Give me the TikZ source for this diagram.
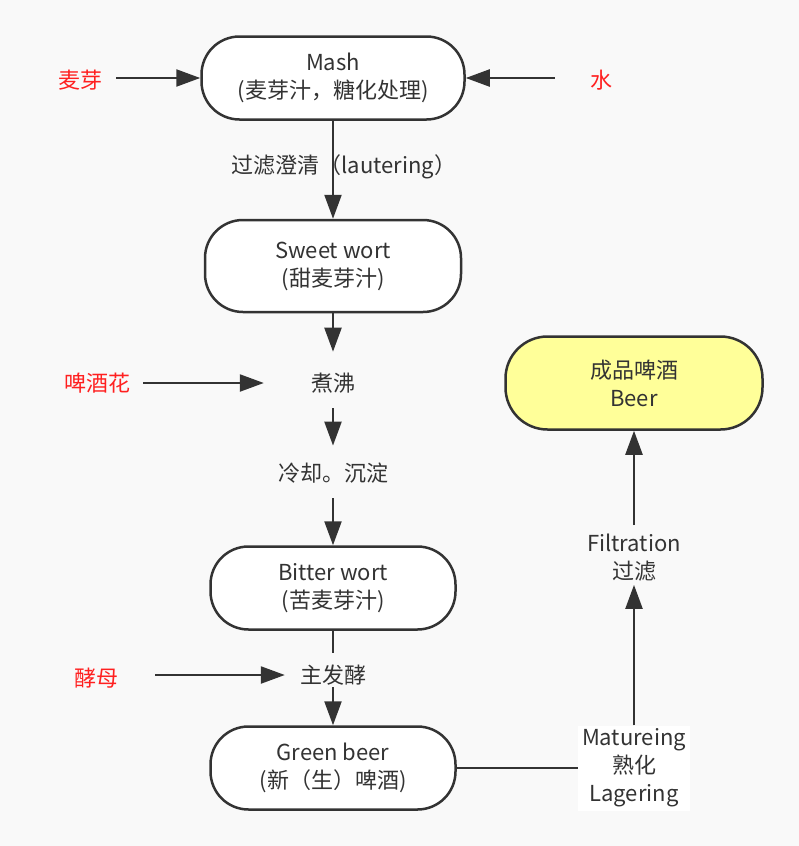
\documentclass[tikz,border=0pt]{standalone}
\usepackage{fontspec}
\setmainfont{Noto Sans CJK SC}
\usetikzlibrary{arrows.meta}
\definecolor{ink}{HTML}{333333}
\definecolor{bgc}{HTML}{F9F9F9}
\definecolor{redt}{HTML}{FF2020}
\definecolor{beerfill}{HTML}{FFFF99}
\begin{document}
\begin{tikzpicture}[x=1pt,y=-1pt,
  every node/.style={font=\fontsize{22}{28}\selectfont, text=ink, align=center},
  procbox/.style={draw=ink, line width=2.5pt, rounded corners=38pt, fill=white, inner sep=0pt},
  plain/.style={inner sep=0pt},
  redlbl/.style={inner sep=0pt, text=redt},
  conn/.style={draw=ink, line width=2.3pt},
  arr/.style={conn, -{Triangle[length=24pt,width=17pt]}}
]
\fill[bgc] (0,0) rectangle (799,846);
\useasboundingbox (0,0) rectangle (799,846);

% process boxes
\node[procbox, minimum width=263pt, minimum height=83pt] (mash) at (333,78) {Mash\\(麦芽汁，糖化处理)};
\node[procbox, minimum width=256pt, minimum height=92pt] (sweet) at (333,266) {Sweet wort\\(甜麦芽汁)};
\node[procbox, minimum width=245pt, minimum height=83pt] (bitter) at (333,588) {Bitter wort\\(苦麦芽汁)};
\node[procbox, minimum width=245pt, minimum height=83pt] (green) at (333,768) {Green beer\\(新（生）啤酒)};
\node[procbox, fill=beerfill, rounded corners=42pt, minimum width=257pt, minimum height=93pt] (beer) at (634,383) {成品啤酒\\Beer};

% step texts
\node[plain] (boil) at (333,383) {煮沸};
\node[plain] (cool) at (333,473) {冷却。沉淀};
\node[plain] (ferm) at (333,675) {主发酵};
\node[plain] (filt) at (634,558) {Filtration\\过滤};
\node[plain, fill=white, minimum width=112pt, minimum height=85pt] (mature) at (634,768) {Matureing\\熟化\\Lagering};

% inputs
\node[redlbl] (malt) at (80,80) {麦芽};
\node[redlbl] (water) at (601,80) {水};
\node[redlbl] (hops) at (97,383) {啤酒花};
\node[redlbl] (yeast) at (96,678) {酵母};

% connectors
\draw[arr, shorten <=14pt] (malt.east |- mash.west) -- (mash.west);
\draw[arr, shorten <=35pt] (water.west |- mash.east) -- (mash.east);
\draw[arr] (mash.south) -- node[plain, pos=0.47, xshift=11pt] (lauter) {过滤澄清（lautering）} (sweet.north);
\draw[arr, shorten >=21pt] (sweet.south) -- (boil.north);
\draw[arr, shorten <=13pt, shorten >=47pt] (hops.east) -- (boil.west);
\draw[arr, shorten <=15pt, shorten >=17pt] (boil.south) -- (cool.north);
\draw[arr, shorten <=15pt] (cool.south) -- (bitter.north);
\draw[conn, shorten >=12pt] (bitter.south) -- (ferm.north);
\draw[arr, shorten <=2pt] (ferm.south) -- (green.north);
\draw[arr, shorten <=37pt, shorten >=15pt] (yeast.east |- ferm.west) -- (ferm.west);
\draw[conn] (green.east) -- (mature.west);
\draw[arr, shorten >=3pt] (mature.north) -- (filt.south);
\draw[arr, shorten <=9pt] (filt.north) -- (beer.south);
\end{tikzpicture}
\end{document}
